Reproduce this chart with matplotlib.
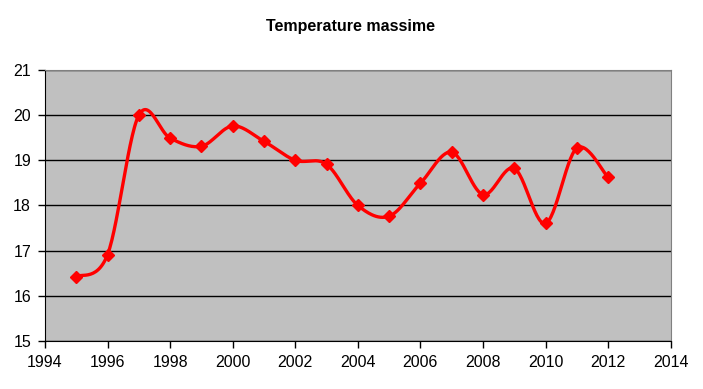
import numpy as np
import matplotlib.pyplot as plt

years = [1995, 1996, 1997, 1998, 1999, 2000, 2001, 2002, 2003, 2004, 2005, 2006,
         2007, 2008, 2009, 2010, 2011, 2012]
tmax = [16.42, 16.91, 20.0, 19.49, 19.31, 19.76, 19.42, 19.0, 18.91, 18.0, 17.76, 18.49,
        19.18, 18.24, 18.82, 17.6, 19.27, 18.62]


def smooth_curve(x, y, n=30):
    # curva tipo Excel (Bezier con punti di controllo Catmull-Rom)
    x = np.asarray(x, dtype=float)
    y = np.asarray(y, dtype=float)
    xs, ys = [], []
    for i in range(len(x) - 1):
        x0, y0 = (x[i - 1], y[i - 1]) if i > 0 else (x[i], y[i])
        x3, y3 = (x[i + 2], y[i + 2]) if i + 2 < len(x) else (x[i + 1], y[i + 1])
        x1, y1 = x[i], y[i]
        x2, y2 = x[i + 1], y[i + 1]
        c1x, c1y = x1 + (x2 - x0) / 6, y1 + (y2 - y0) / 6
        c2x, c2y = x2 - (x3 - x1) / 6, y2 - (y3 - y1) / 6
        t = np.linspace(0, 1, n)
        bx = (1 - t) ** 3 * x1 + 3 * (1 - t) ** 2 * t * c1x + 3 * (1 - t) * t ** 2 * c2x + t ** 3 * x2
        by = (1 - t) ** 3 * y1 + 3 * (1 - t) ** 2 * t * c1y + 3 * (1 - t) * t ** 2 * c2y + t ** 3 * y2
        xs.extend(bx)
        ys.extend(by)
    return np.array(xs), np.array(ys)


plt.rcParams['font.family'] = ['Liberation Sans Narrow', 'Liberation Sans', 'DejaVu Sans']

fig = plt.figure(figsize=(7.03, 3.89), dpi=100)
ax = fig.add_axes([0.064, 0.124, 0.890, 0.696])
ax.set_facecolor('#C0C0C0')

sx, sy = smooth_curve(years, tmax)
ax.plot(sx, sy, color='#FF0000', lw=2.4, zorder=3)
ax.plot(years, tmax, linestyle='none', marker='D', color='#FF0000', ms=6.5, zorder=4)

ax.set_xlim(1994, 2014)
ax.set_ylim(15, 21)
ax.set_xticks(range(1994, 2015, 2))
ax.set_yticks(range(15, 22))
ax.grid(axis='y', color='black', lw=1)
ax.set_axisbelow(True)

ax.spines['top'].set_color('#808080')
ax.spines['right'].set_color('#808080')
ax.spines['left'].set_color('black')
ax.spines['bottom'].set_color('black')
ax.tick_params(direction='out', length=5, width=1, labelsize=11.5, pad=5)

fig.text(0.498, 0.933, 'Temperature massime', ha='center', va='center',
         fontsize=11.5, fontweight='bold', family=['Liberation Sans', 'DejaVu Sans'])

fig.savefig('out.png', dpi=100, facecolor='white')
